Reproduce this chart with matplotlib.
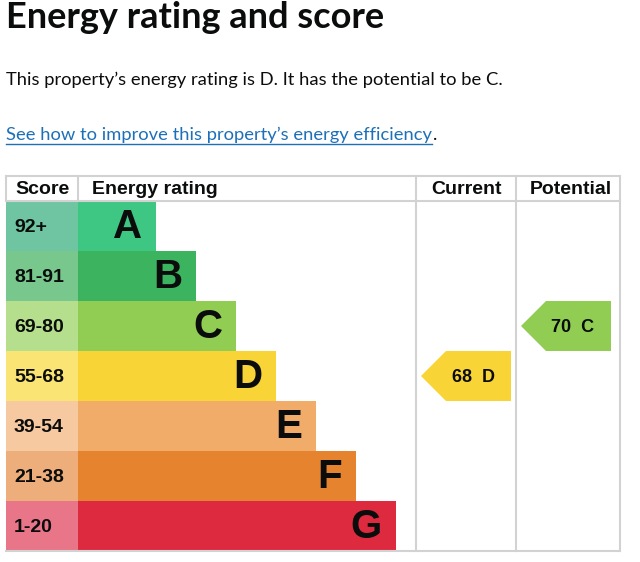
import matplotlib
matplotlib.use("Agg")
import matplotlib.pyplot as plt
from matplotlib.patches import Polygon

# data
bands = ["A", "B", "C", "D", "E", "F", "G"]
score_ranges = ["92+", "81-91", "69-80", "55-68", "39-54", "21-38", "1-20"]
band_colors = ["#3ec783", "#3bb35f", "#91cd52", "#f9d437", "#f2ac6a", "#e5832f", "#de2a3f"]
score_colors = ["#6fc5a1", "#78c88d", "#b5df8c", "#f9e474", "#f6c9a0", "#eeae7c", "#e87588"]
current_score, current_band = 68, "D"
potential_score, potential_band = 70, "C"
headers = ["Score", "Energy rating", "Current", "Potential"]

title = "Energy rating and score"
summary = "This property\u2019s energy rating is D. It has the potential to be C."
link = "See how to improve this property\u2019s energy efficiency"

# layout in pixels
W, H = 640, 562
left, score_right = 6, 78
cur_l, pot_l, right = 416, 516, 620
head_top, head_bot = 176, 201
row_h = 50
bar_base, bar_step = 78, 40
grid = "#d2d2d2"
body_font = ["Lato", "DejaVu Sans"]
table_font = ["Liberation Sans", "DejaVu Sans"]

fig = plt.figure(figsize=(W / 100, H / 100), dpi=100)
ax = fig.add_axes([0, 0, 1, 1])
ax.set_xlim(0, W)
ax.set_ylim(H, 0)
ax.axis("off")

ax.text(left, 28, title, fontsize=26, fontweight="bold", family=body_font,
        va="baseline", ha="left", color="#0b0c0c")
ax.text(left, 85.5, summary, fontsize=13.2, family=body_font,
        va="baseline", ha="left", color="#0b0c0c")
lt = ax.text(left, 140, link, fontsize=13.2, family=body_font,
             va="baseline", ha="left", color="#1d70b8")
fig.canvas.draw()
bb = lt.get_window_extent(fig.canvas.get_renderer())
ax.plot([left, left + bb.width], [143.5, 143.5], color="#1d70b8", lw=1)
ax.text(left + bb.width + 1, 140, ".", fontsize=13.2, family=body_font,
        va="baseline", ha="left", color="#0b0c0c")

# rows
centers = [head_bot + row_h * (i + 0.5) for i in range(len(bands))]
widths = [bar_step * (i + 2) - 2 for i in range(len(bands))]
ax.barh(centers, [score_right - left] * len(bands), left=left, height=row_h,
        color=score_colors, linewidth=0)
ax.barh(centers, widths, left=bar_base, height=row_h, color=band_colors, linewidth=0)
for c, w, b, s in zip(centers, widths, bands, score_ranges):
    ax.text(bar_base + w - 14, c + 1, b, fontsize=29, fontweight="bold", family=table_font,
            ha="right", va="center", color="#0b0c0c")
    ax.text(left + 8, c + 1, s, fontsize=14, fontweight="bold", family=table_font,
            ha="left", va="center", color="#0b0c0c")

# grid lines
bottom = head_bot + row_h * len(bands)
ax.plot([left, right], [head_top, head_top], color=grid, lw=1.5)
ax.plot([left, right], [head_bot, head_bot], color=grid, lw=1.5)
ax.plot([left, right], [bottom, bottom], color=grid, lw=1.5)
for x in [left, score_right]:
    ax.plot([x, x], [head_top, head_bot], color=grid, lw=1.5)
for x in [cur_l, pot_l, right]:
    ax.plot([x, x], [head_top, bottom], color=grid, lw=1.5)

hy = (head_top + head_bot) / 2 + 1
ax.text(left + 9, hy, headers[0], fontsize=14, fontweight="bold", family=table_font,
        ha="left", va="center", color="#0b0c0c")
ax.text(score_right + 14, hy, headers[1], fontsize=14, fontweight="bold", family=table_font,
        ha="left", va="center", color="#0b0c0c")
ax.text((cur_l + pot_l) / 2, hy, headers[2], fontsize=14, fontweight="bold", family=table_font,
        ha="center", va="center", color="#0b0c0c")
ax.text((pot_l + right) / 2 + 3, hy, headers[3], fontsize=14, fontweight="bold", family=table_font,
        ha="center", va="center", color="#0b0c0c")


def arrow(col_left, score, band):
    i = bands.index(band)
    top, bot = head_bot + row_h * i, head_bot + row_h * (i + 1)
    tip, x1, x2 = col_left + 5, col_left + 30, col_left + 95
    ax.add_patch(Polygon([(tip, (top + bot) / 2), (x1, top), (x2, top), (x2, bot), (x1, bot)],
                         closed=True, color=band_colors[i], linewidth=0))
    ax.text(col_left + 57, (top + bot) / 2 + 1, f"{score}  {band}", fontsize=13,
            fontweight="bold", family=table_font, ha="center", va="center", color="#0b0c0c")


arrow(cur_l, current_score, current_band)
arrow(pot_l, potential_score, potential_band)

fig.savefig("out.png", dpi=100, facecolor="white")
